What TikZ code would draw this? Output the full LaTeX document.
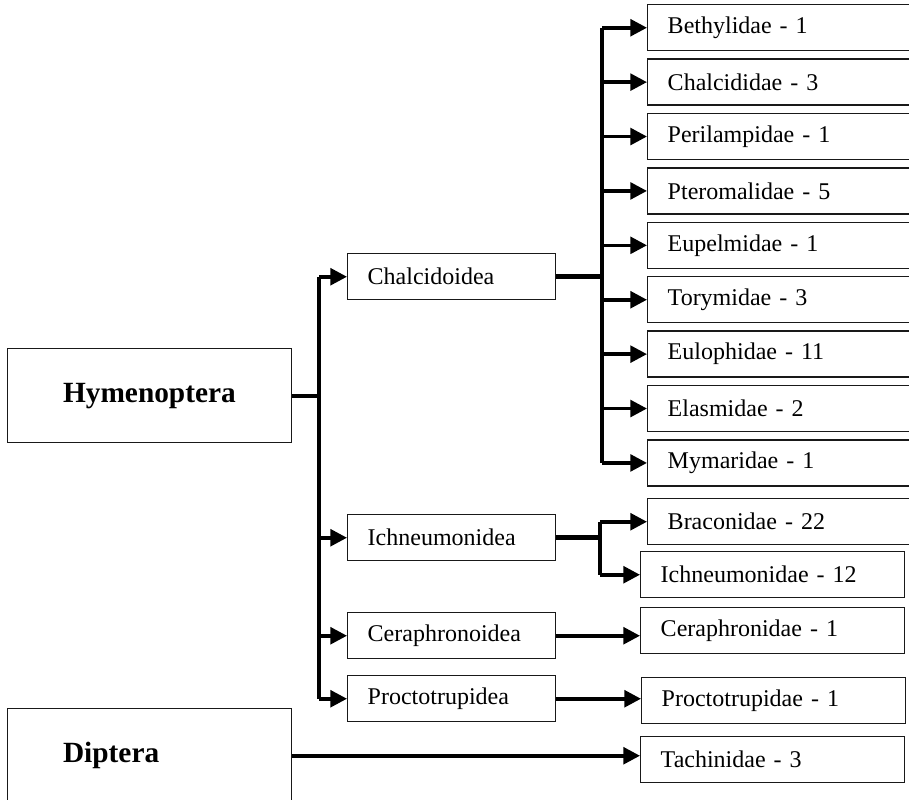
\documentclass[tikz,border=0pt]{standalone}
\usepackage{fontspec}
\setmainfont{Liberation Serif}
\usetikzlibrary{arrows.meta,positioning}

\begin{document}
\begin{tikzpicture}[x=0.75pt,y=-0.75pt]
    \tikzstyle{order}=[rectangle, draw=black!90, line width=1.1pt, minimum width=213pt, minimum height=70.5pt, text width=130pt, inner xsep=41.5pt, align=left, anchor=north west, font=\fontsize{22}{26}\selectfont\bfseries]
    \tikzstyle{superfam}=[rectangle, draw=black!90, line width=1.1pt, minimum height=34.5pt, text width=126pt, inner xsep=15pt, inner ysep=2pt, align=left, anchor=north west, font=\fontsize{18}{21}\selectfont]
    \tikzstyle{family}=[superfam, text width=180pt]
    \tikzstyle{narrow}=[superfam, text width=168pt]
    \tikzstyle{link}=[line width=3pt]
    \tikzstyle{connect}=[-{Triangle[length=12.5pt, width=12.5pt]}, line width=2.7pt]

    \useasboundingbox (0,0) rectangle (909,799);
    \clip (0,0) rectangle (909,799);

      % orders
      \node[order] (hym) at (7,348) {Hymenoptera};
      \node[order] (dip) at (7,708) {Diptera};
      % superfamilies
      \node[superfam] (chalcidoidea) at (347,253) {Chalcidoidea};
      \node[superfam] (ichneumonoidea) at (347,514) {Ichneumonidea};
      \node[superfam] (ceraphronoidea) at (347,612) {Ceraphronoidea};
      \node[superfam] (proctotrupoidea) at (347,675) {Proctotrupidea};
      % families
      \node[family] (bethy) at (647,4) {Bethylidae - 1};
      \node[family] (chalcid) [below=5.2pt of bethy] {Chalcididae - 3};
      \node[family] (perilamp) [below=5.2pt of chalcid] {Perilampidae - 1};
      \node[family] (pteromal) [below=5.2pt of perilamp] {Pteromalidae - 5};
      \node[family] (eupelm) [below=5.2pt of pteromal] {Eupelmidae - 1};
      \node[family] (torym) [below=5.2pt of eupelm] {Torymidae - 3};
      \node[family] (euloph) [below=5.2pt of torym] {Eulophidae - 11};
      \node[family] (elasm) [below=5.2pt of euloph] {Elasmidae - 2};
      \node[family] (mymar) [below=5.2pt of elasm] {Mymaridae - 1};
      \node[family] (bracon) at (647,498) {Braconidae - 22};
      \node[narrow] (ichneum) at (640,551) {Ichneumonidae - 12};
      \node[narrow] (ceraph) at (640,607) {Ceraphronidae - 1};
      \node[narrow] (procto) at (641,677) {Proctotrupidae - 1};
      \node[narrow] (tachin) at (640,736) {Tachinidae - 3};

      \coordinate (hj) at (319,0);
      \coordinate (cj) at (602,0);
      \coordinate (ij) at (600,0);

      \draw[link] (hym.east) -- (hym.east -| hj);
      \draw[link] (hj |- chalcidoidea.west) -- (hj |- proctotrupoidea.west);
      \path
        (hj |- chalcidoidea.west) edge [connect] (chalcidoidea.west)
        (hj |- ichneumonoidea.west) edge [connect] (ichneumonoidea.west)
        (hj |- ceraphronoidea.west) edge [connect] (ceraphronoidea.west)
        (hj |- proctotrupoidea.west) edge [connect] (proctotrupoidea.west);

      \draw[link, line width=3.8pt] (chalcidoidea.east) -- (chalcidoidea.east -| cj);
      \draw[link] (cj |- bethy.west) -- (cj |- mymar.west);
      \path
        (cj |- bethy.west) edge [connect] (bethy.west)
        (cj |- chalcid.west) edge [connect] (chalcid.west)
        (cj |- perilamp.west) edge [connect] (perilamp.west)
        (cj |- pteromal.west) edge [connect] (pteromal.west)
        (cj |- eupelm.west) edge [connect] (eupelm.west)
        (cj |- torym.west) edge [connect] (torym.west)
        (cj |- euloph.west) edge [connect] (euloph.west)
        (cj |- elasm.west) edge [connect] (elasm.west)
        (cj |- mymar.west) edge [connect] (mymar.west);

      \draw[link, line width=3.4pt] (ichneumonoidea.east) -- (ichneumonoidea.east -| ij);
      \draw[link] (ij |- bracon.west) -- (ij |- ichneum.west);
      \path
        (ij |- bracon.west) edge [connect] (bracon.west)
        (ij |- ichneum.west) edge [connect] (ichneum.west)
        (ceraphronoidea.east) edge [connect] (ceraphronoidea.east -| ceraph.west)
        (proctotrupoidea.east) edge [connect] (proctotrupoidea.east -| procto.west)
        (dip.east) edge [connect] (dip.east -| tachin.west);
\end{tikzpicture}
\end{document}
